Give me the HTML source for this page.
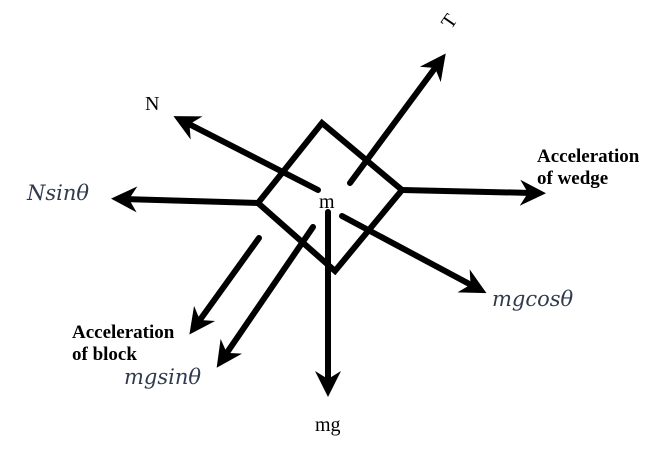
<!DOCTYPE html>
<html><head><style>
html,body{margin:0;padding:0;background:#fff;}
svg{display:block;}
.b{font-family:"Liberation Serif",serif;font-weight:bold;font-size:19px;fill:#000;}
.i{font-family:"DejaVu Serif","Liberation Serif",serif;font-style:italic;font-size:21px;fill:#2f3b4c;}
.r{font-family:"Liberation Serif",serif;font-size:20px;fill:#000;}
</style></head><body>
<svg width="669" height="466" viewBox="0 0 669 466">
<defs>
<marker id="a" markerUnits="userSpaceOnUse" markerWidth="30" markerHeight="30" viewBox="-15 -15 30 30" refX="0" refY="0" orient="auto" overflow="visible">
<polygon points="13,0 -13,-13 -5,0 -13,13" fill="#000"/>
</marker>
</defs>
<g stroke="#000" stroke-width="6" fill="none" stroke-linecap="round">
<polygon points="322,123 402,190 335,271 258,203" stroke-linejoin="miter"/>
<line x1="350" y1="183" x2="438" y2="64" marker-end="url(#a)"/>
<line x1="318" y1="190" x2="185" y2="122" marker-end="url(#a)"/>
<line x1="258" y1="203" x2="124" y2="199" marker-end="url(#a)"/>
<line x1="402" y1="190" x2="533" y2="193" marker-end="url(#a)"/>
<line x1="342" y1="216" x2="475" y2="287" marker-end="url(#a)"/>
<line x1="328" y1="212" x2="328" y2="384" marker-end="url(#a)"/>
<line x1="313" y1="227" x2="224" y2="357" marker-end="url(#a)"/>
<line x1="259" y1="238" x2="197" y2="324" marker-end="url(#a)"/>
</g>
<text class="r" x="319" y="208">m</text>
<text class="r" x="145" y="110">N</text>
<text class="r" x="0" y="0" transform="translate(451,30) rotate(-55)">T</text>
<text class="i" x="27" y="200">Nsinθ</text>
<text class="b" x="537" y="162">Acceleration</text>
<text class="b" x="537" y="184">of wedge</text>
<text class="i" x="492" y="306">mgcosθ</text>
<text class="b" x="72" y="338">Acceleration</text>
<text class="b" x="72" y="360">of block</text>
<text class="i" x="124" y="384">mgsinθ</text>
<text class="r" x="315" y="431">mg</text>
</svg>
</body></html>
